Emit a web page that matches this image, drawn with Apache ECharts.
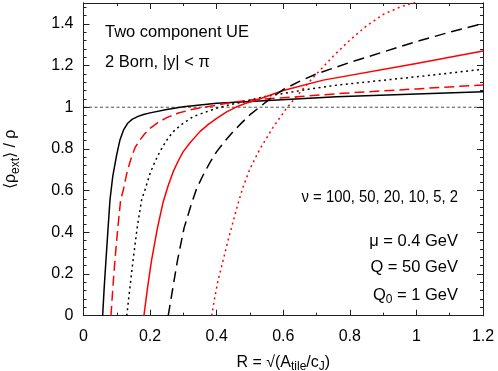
<!DOCTYPE html>
<html>
<head>
<meta charset="utf-8">
<script src="https://cdn.jsdelivr.net/npm/echarts@6/dist/echarts.min.js"></script>
<style>
  html, body { margin: 0; padding: 0; background: #fff; }
  #chart { width: 498px; height: 371px; }
</style>
</head>
<body>
<div id="chart"></div>
<script>
// values, [R, <rho_ext>/rho]
var nu100 = [[0.0575,0],[0.062,0.13],[0.0675,0.267],[0.073,0.40],[0.0795,0.555],[0.088,0.67],[0.0995,0.77],[0.1095,0.843],[0.12,0.89],[0.1325,0.923],[0.147,0.943],[0.164,0.956],[0.18,0.965],[0.2,0.973],[0.25,0.989],[0.3,1.002],[0.4,1.019],[0.5,1.028],[0.76,1.05],[1.0,1.063],[1.2,1.074]]
var nu50 = [[0.0825,0],[0.088,0.13],[0.0945,0.267],[0.103,0.42],[0.1115,0.555],[0.1195,0.603],[0.131,0.69],[0.1445,0.763],[0.156,0.81],[0.1695,0.843],[0.184,0.873],[0.2,0.899],[0.225,0.928],[0.25,0.95],[0.285,0.972],[0.32,0.987],[0.36,1.0],[0.4,1.01],[0.45,1.024],[0.5,1.035],[0.64,1.05],[0.78,1.067],[1.0,1.088],[1.2,1.107]]
var nu20 = [[0.130,0],[0.139,0.13],[0.149,0.267],[0.161,0.42],[0.1745,0.555],[0.1845,0.603],[0.2,0.683],[0.215,0.74],[0.2295,0.787],[0.249,0.84],[0.2695,0.883],[0.295,0.918],[0.3294,0.955],[0.36,0.973],[0.4,0.995],[0.44,1.012],[0.48,1.026],[0.54,1.05],[0.69,1.09],[0.76,1.106],[1.0,1.146],[1.2,1.182]]
var nu10 = [[0.1815,0],[0.192,0.13],[0.2045,0.267],[0.222,0.42],[0.2395,0.547],[0.2545,0.625],[0.2695,0.691],[0.2845,0.742],[0.2995,0.787],[0.32,0.83],[0.3495,0.883],[0.375,0.918],[0.4,0.947],[0.43,0.978],[0.46,1.002],[0.49,1.02],[0.52,1.035],[0.6,1.08],[0.72,1.13],[1.0,1.21],[1.2,1.27]]
var nu5 = [[0.2545,0],[0.268,0.13],[0.2825,0.267],[0.302,0.42],[0.3246,0.539],[0.34,0.61],[0.3595,0.675],[0.38,0.735],[0.4,0.787],[0.425,0.838],[0.4495,0.883],[0.475,0.925],[0.4995,0.963],[0.53,1.002],[0.56,1.04],[0.6,1.085],[0.65,1.125],[0.7,1.16],[0.8,1.215],[0.9,1.265],[1.0,1.315],[1.1,1.36],[1.2,1.402]]
var nu2 = [[0.385,0],[0.3945,0.09],[0.4045,0.171],[0.42,0.27],[0.4345,0.363],[0.45,0.455],[0.4645,0.54],[0.4795,0.618],[0.5,0.705],[0.53,0.80],[0.57,0.905],[0.61,0.995],[0.655,1.08],[0.7,1.16],[0.75,1.245],[0.8,1.322],[0.85,1.39],[0.9,1.445],[0.95,1.48],[1.0,1.506]]
var refLine = [[0,1],[1.2,1]]

var yTicks = [0,0.2,0.4,0.6,0.8,1,1.2,1.4]
var yMinor = []
for (var i = 0; i <= 37; i++) yMinor.push(+(i*0.04).toFixed(2))

var FONT = 'Liberation Sans, Arial, Helvetica, sans-serif'
var AX = '#222'

var chart = echarts.init(document.getElementById('chart'), null, {renderer: 'canvas'})

function line(data, color, type) {
  return {
    type: 'line', data: data, showSymbol: false, symbol: 'none',
    smooth: false, clip: true,
    lineStyle: {color: color, width: 1.5, type: type},
    xAxisIndex: 0, yAxisIndex: 0, z: 3, silent: true
  }
}

function yAx(pos, ticks, len, labels) {
  return {
    type: 'value', position: pos, min: 0, max: 1.5,
    axisLine: {show: true, onZero: false, lineStyle: {color: AX, width: 1}},
    axisTick: {show: true, inside: true, length: len, customValues: ticks, lineStyle: {color: AX}},
    axisLabel: labels ? {show: true, customValues: yTicks, color: '#000', fontFamily: FONT, fontSize: 16, margin: 10} : {show: false},
    splitLine: {show: false}
  }
}

function txt(s, x, y, align, sx) {
  return {type: 'text', x: x, y: y, scaleX: sx || 1,
    style: {text: s, font: '16.5px ' + FONT, fill: '#000', align: align, verticalAlign: 'top',
      rich: {sub: {font: '12px ' + FONT, padding: [9,0,0,0]}}}}
}

chart.setOption({
  animation: false,
  grid: {left: 83.5, right: 15, top: 3, bottom: 55.3, containLabel: false, outerBoundsMode: 'none'},
  xAxis: [
    {type: 'value', position: 'bottom', min: 0, max: 1.2, interval: 0.2,
     axisLine: {show: true, onZero: false, lineStyle: {color: AX, width: 1}},
     axisTick: {show: true, inside: true, length: 6, lineStyle: {color: AX}},
     minorTick: {show: true, splitNumber: 2, length: 3, lineStyle: {color: AX}},
     axisLabel: {color: '#000', fontFamily: FONT, fontSize: 16, margin: 13},
     splitLine: {show: false},
     name: 'R = √(A{sub|tile}/c{sub|J})', nameLocation: 'middle', nameGap: 36,
     nameTextStyle: {color: '#000', fontFamily: FONT, fontSize: 16,
       rich: {sub: {fontFamily: FONT, fontSize: 12, padding: [9,0,0,0]}}}},
    {type: 'value', position: 'top', min: 0, max: 1.2, interval: 0.2,
     axisLine: {show: true, onZero: false, lineStyle: {color: AX, width: 1}},
     axisTick: {show: true, inside: true, length: 6, lineStyle: {color: AX}},
     minorTick: {show: true, splitNumber: 2, length: 3, lineStyle: {color: AX}},
     axisLabel: {show: false}, splitLine: {show: false}}
  ],
  yAxis: [
    Object.assign(yAx('left', yTicks, 6, true), {
      name: '⟨ρ{sub|ext}⟩ / ρ', nameLocation: 'middle', nameGap: 62, nameRotate: 90,
      nameTextStyle: {color: '#000', fontFamily: FONT, fontSize: 16,
        rich: {sub: {fontFamily: FONT, fontSize: 12, padding: [9,0,0,0]}}}
    }),
    yAx('left', yMinor, 3, false),
    yAx('right', yTicks, 6, false),
    yAx('right', yMinor, 3, false)
  ],
  graphic: [
    txt('Two component UE', 105, 24, 'left'),
    txt('2 Born, |y| < π', 105, 54, 'left'),
    txt('ν = 100, 50, 20, 10, 5, 2', 458, 189, 'right', 0.9),
    txt('μ = 0.4 GeV', 458, 233, 'right'),
    txt('Q = 50 GeV', 458, 259, 'right'),
    txt('Q{sub|0} = 1 GeV', 458, 285, 'right')
  ],
  series: [
    {type: 'line', data: refLine, showSymbol: false, symbol: 'none', silent: true, z: 2,
     lineStyle: {color: '#000', width: 0.7, type: [3, 2.5]}},
    line(nu100, '#000', 'solid'),
    line(nu50, '#ff0000', [10, 5]),
    line(nu20, '#000', [2, 3.5]),
    line(nu10, '#ff0000', 'solid'),
    line(nu5, '#000', [11, 6]),
    line(nu2, '#ff0000', [2, 3.5])
  ]
})
</script>
</body>
</html>
